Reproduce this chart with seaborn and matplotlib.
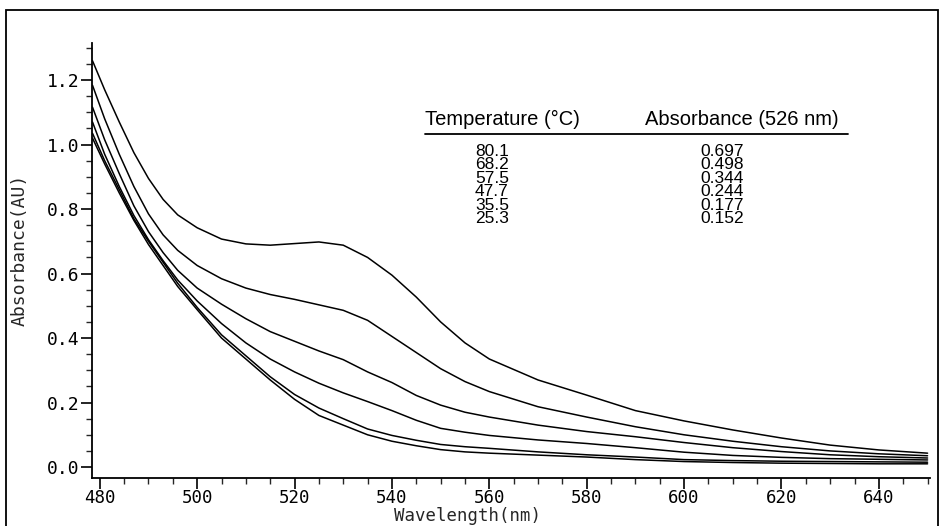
import pandas as pd
import seaborn as sns
import matplotlib.pyplot as plt
from matplotlib.patches import Rectangle
from matplotlib.ticker import MultipleLocator, FormatStrFormatter

wavelength = [478.5, 481, 484, 487, 490, 493, 496, 500, 505, 510, 515, 520, 525, 530,
              535, 540, 545, 550, 555, 560, 570, 580, 590, 600, 610, 620, 630, 640, 650]

abs_801 = [1.26, 1.17, 1.07, 0.975, 0.895, 0.83, 0.782, 0.742, 0.707, 0.692, 0.688, 0.693, 0.698, 0.688,
           0.65, 0.595, 0.527, 0.45, 0.385, 0.335, 0.27, 0.223, 0.175, 0.143, 0.115, 0.09, 0.068, 0.053, 0.043]
abs_682 = [1.184, 1.08, 0.97, 0.87, 0.785, 0.72, 0.672, 0.625, 0.584, 0.555, 0.535, 0.52, 0.503, 0.486,
           0.455, 0.405, 0.355, 0.305, 0.265, 0.234, 0.187, 0.155, 0.125, 0.10, 0.08, 0.063, 0.05, 0.041, 0.035]
abs_575 = [1.116, 1.015, 0.91, 0.81, 0.73, 0.665, 0.61, 0.555, 0.505, 0.46, 0.42, 0.39, 0.36, 0.333,
           0.295, 0.262, 0.222, 0.192, 0.17, 0.155, 0.13, 0.11, 0.094, 0.076, 0.06, 0.048, 0.038, 0.032, 0.028]
abs_477 = [1.07, 0.97, 0.87, 0.78, 0.705, 0.64, 0.58, 0.515, 0.445, 0.385, 0.335, 0.295, 0.26, 0.23,
           0.203, 0.175, 0.145, 0.12, 0.108, 0.098, 0.084, 0.073, 0.06, 0.046, 0.036, 0.03, 0.026, 0.024, 0.022]
abs_355 = [1.035, 0.95, 0.86, 0.77, 0.70, 0.635, 0.57, 0.495, 0.41, 0.345, 0.28, 0.225, 0.183, 0.15,
           0.118, 0.098, 0.083, 0.07, 0.063, 0.058, 0.047, 0.038, 0.031, 0.023, 0.02, 0.018, 0.017, 0.016, 0.015]
abs_253 = [1.02, 0.94, 0.85, 0.765, 0.69, 0.625, 0.56, 0.488, 0.40, 0.335, 0.27, 0.21, 0.16, 0.13,
           0.10, 0.08, 0.066, 0.054, 0.047, 0.043, 0.037, 0.031, 0.023, 0.017, 0.014, 0.012, 0.011, 0.01, 0.01]

# Tabela inserida no gráfico
temperaturas = ['80.1', '68.2', '57.5', '47.7', '35.5', '25.3']
abs_526 = ['0.697', '0.498', '0.344', '0.244', '0.177', '0.152']

series = [abs_801, abs_682, abs_575, abs_477, abs_355, abs_253]
df = pd.concat([pd.DataFrame({'wavelength': wavelength, 'absorbance': s, 'temp': t})
                for s, t in zip(series, temperaturas)], ignore_index=True)

sns.set_style("ticks")
plt.rcParams['font.family'] = ['DejaVu Sans Mono']

W, H = 943, 526
fig = plt.figure(figsize=(W / 100, H / 100), dpi=100)
ax = fig.add_axes([92 / W, 1 - 478 / H, (930 - 92) / W, (478 - 43) / H])

sns.lineplot(data=df, x='wavelength', y='absorbance', hue='temp', palette=['black'] * 6,
             linewidth=1.1, legend=False, ax=ax, sort=False, estimator=None)

ax.set_xlim(478.4, 650.5)
ax.set_ylim(-0.034, 1.315)
ax.xaxis.set_major_locator(MultipleLocator(20))
ax.xaxis.set_minor_locator(MultipleLocator(5))
ax.yaxis.set_major_locator(MultipleLocator(0.2))
ax.yaxis.set_minor_locator(MultipleLocator(0.05))
ax.yaxis.set_major_formatter(FormatStrFormatter('%.1f'))
ax.tick_params(which='major', length=8, width=1.2, direction='out', labelsize=13, pad=1, colors='black')
ax.tick_params(axis='x', which='major', labelsize=12.5, pad=0)
ax.tick_params(which='minor', length=4, width=1.0, direction='out')
sns.despine(ax=ax)
for s in ['left', 'bottom']:
    ax.spines[s].set_linewidth(1.3)
    ax.spines[s].set_color('black')

ax.set_xlabel('Wavelength(nm)', fontsize=12.5, va='center')
ax.set_ylabel('Absorbance(AU)', fontsize=13, va='center')
ax.xaxis.set_label_coords((468 - 92) / 838, (478 - 516) / 435)
ax.yaxis.set_label_coords((20 - 92) / 838, (478 - 250) / 435)

# Tabela de temperaturas / absorbâncias
hf = dict(family=['Liberation Sans', 'DejaVu Sans'], fontsize=14.5, color='black')
rf = dict(family=['Liberation Sans', 'DejaVu Sans'], fontsize=12.5, color='black')
fig.text(425 / W, 1 - 125 / H, 'Temperature (°C)', ha='left', va='baseline', **hf)
fig.text(645 / W, 1 - 125 / H, 'Absorbance (526 nm)', ha='left', va='baseline', **hf)
fig.add_artist(plt.Line2D([425 / W, 848 / W], [1 - 134 / H, 1 - 134 / H], color='black', lw=1.3))
for i, (t, a) in enumerate(zip(temperaturas, abs_526)):
    y = 1 - (156 + i * 13.4) / H
    fig.text(475 / W, y, t, ha='left', va='baseline', **rf)
    fig.text(700 / W, y, a, ha='left', va='baseline', **rf)

# Moldura em volta da figura
fig.add_artist(Rectangle((6 / W, -0.02), (938 - 6) / W, 1 - 10 / H + 0.02,
                         transform=fig.transFigure, fill=False, lw=1.3, edgecolor='black'))

plt.savefig('out.png', dpi=100)
plt.close()
